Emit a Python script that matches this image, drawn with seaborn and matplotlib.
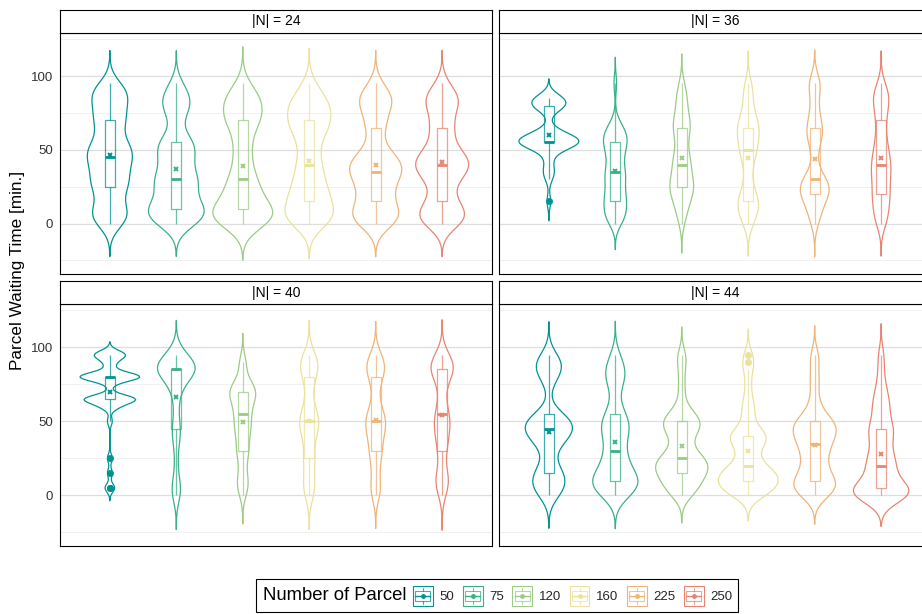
import numpy as np
import pandas as pd
import seaborn as sns
import matplotlib
matplotlib.use("Agg")
import matplotlib.pyplot as plt
from matplotlib.legend_handler import HandlerBase
from matplotlib.patches import Rectangle
from matplotlib.lines import Line2D

# Waiting-time grid (minutes) shared by every frequency list below
waiting_minutes = np.arange(0, 100, 5)

parcel_levels = ["50", "75", "120", "160", "225", "250"]
node_levels = [24, 36, 40, 44]
palette = ["#009392", "#39b185", "#9ccb86", "#e9e29c", "#eeb479", "#e88471"]

# Number of parcels observed at each waiting time (0, 5, ..., 95 min)
n24_50 = [2, 3, 2, 1, 1, 3, 2, 2, 2, 3, 3, 2, 1, 1, 3, 1, 2, 2, 3, 1]
n24_75 = [3, 4, 4, 2, 2, 2, 4, 1, 2, 2, 2, 3, 1, 0, 1, 1, 2, 2, 1, 1]
n24_120 = [4, 5, 4, 2, 2, 2, 2, 1, 1, 1, 1, 1, 1, 1, 3, 2, 2, 3, 1, 1]
n24_160 = [3, 4, 2, 3, 2, 2, 2, 1, 2, 1, 1, 1, 2, 2, 3, 2, 3, 2, 1, 1]
n24_225 = [3, 4, 2, 2, 2, 2, 2, 4, 3, 3, 1, 1, 0, 2, 1, 1, 2, 3, 1, 1]
n24_250 = [3, 4, 2, 2, 1, 1, 2, 3, 4, 3, 2, 1, 1, 2, 1, 1, 2, 3, 1, 1]

n36_50 = [0, 0, 0, 1, 0, 0, 1, 2, 1, 1, 3, 12, 6, 1, 0, 1, 6, 5, 0, 0]
n36_75 = [2, 3, 3, 3, 3, 2, 3, 3, 2, 2, 3, 3, 4, 2, 1, 0, 0, 0, 0, 1]
n36_120 = [1, 1, 2, 2, 3, 4, 3, 2, 3, 2, 2, 1, 2, 3, 2, 2, 1, 2, 1, 1]
n36_160 = [2, 2, 3, 4, 2, 1, 1, 1, 1, 2, 3, 2, 3, 4, 2, 2, 1, 1, 2, 1]
n36_225 = [1, 2, 2, 2, 5, 5, 4, 1, 0, 1, 1, 1, 3, 3, 1, 1, 2, 0, 1, 4]
n36_250 = [2, 2, 2, 2, 3, 2, 2, 3, 3, 2, 2, 2, 1, 1, 2, 1, 2, 3, 2, 1]

n40_50 = [0, 2, 0, 1, 0, 1, 0, 0, 0, 0, 1, 0, 3, 10, 0, 1, 12, 1, 2, 6]
n40_75 = [2, 2, 1, 0, 1, 0, 1, 0, 2, 2, 0, 1, 1, 0, 2, 2, 2, 13, 4, 4]
n40_120 = [1, 2, 2, 1, 1, 1, 3, 1, 2, 3, 2, 3, 2, 4, 5, 4, 0, 1, 2, 0]
n40_160 = [2, 2, 2, 1, 1, 3, 1, 1, 2, 3, 4, 3, 1, 1, 1, 1, 2, 3, 4, 2]
n40_225 = [2, 2, 1, 1, 1, 2, 2, 2, 2, 3, 4, 3, 1, 1, 1, 1, 2, 4, 3, 2]
n40_250 = [1, 2, 3, 2, 0, 1, 2, 1, 2, 3, 2, 3, 1, 1, 1, 1, 2, 6, 4, 2]

n44_50 = [2, 3, 3, 3, 1, 1, 0, 3, 3, 5, 5, 2, 0, 0, 0, 1, 1, 3, 3, 1]
n44_75 = [3, 4, 5, 3, 2, 2, 2, 1, 2, 3, 2, 2, 1, 0, 1, 1, 2, 2, 1, 1]
n44_120 = [2, 3, 3, 4, 5, 4, 2, 1, 2, 3, 4, 2, 1, 0, 1, 0, 1, 0, 1, 1]
n44_160 = [3, 5, 5, 5, 3, 1, 2, 2, 5, 1, 1, 1, 1, 1, 0, 1, 0, 1, 1, 1]
n44_225 = [3, 4, 4, 2, 2, 2, 2, 3, 3, 4, 4, 1, 1, 1, 0, 1, 1, 0, 1, 1]
n44_250 = [9, 5, 2, 2, 3, 2, 2, 1, 2, 3, 1, 1, 2, 1, 1, 1, 0, 1, 0, 1]

frequencies = {
    24: [n24_50, n24_75, n24_120, n24_160, n24_225, n24_250],
    36: [n36_50, n36_75, n36_120, n36_160, n36_225, n36_250],
    40: [n40_50, n40_75, n40_120, n40_160, n40_225, n40_250],
    44: [n44_50, n44_75, n44_120, n44_160, n44_225, n44_250],
}

rows = []
for nodes, lists in frequencies.items():
    for parcels, counts in zip(parcel_levels, lists):
        for t in np.repeat(waiting_minutes, counts):
            rows.append((nodes, parcels, float(t)))
df = pd.DataFrame(rows, columns=["nodes", "parcels", "wait"])


def nrd0(kde):
    """Silverman's rule of thumb (R's bw.nrd0) expressed as a scipy factor."""
    x = kde.dataset.ravel()
    sd = x.std(ddof=1)
    q75, q25 = np.percentile(x, [75, 25])
    h = 0.9 * min(sd, (q75 - q25) / 1.34) * len(x) ** -0.2
    return h / sd


sns.set_style("white")
plt.rcParams["font.family"] = ["Liberation Sans", "DejaVu Sans"]

W, H = 922, 614
fig = plt.figure(figsize=(W / 100, H / 100), dpi=100)


def fx(px):
    return px / W


def fy(py):
    return 1 - py / H


panel_w = 432
panel_lefts = [60, 499, 60, 499]
panel_tops = [33, 33, 304, 304]
panel_h = [241, 241, 242, 242]
strip_h = 23

for k, nodes in enumerate(node_levels):
    left, top = panel_lefts[k], panel_tops[k]
    ax = fig.add_axes([fx(left), fy(top + panel_h[k]), panel_w / W, panel_h[k] / H])
    sub = df[df["nodes"] == nodes]

    sns.violinplot(
        data=sub, x="parcels", y="wait", hue="parcels",
        order=parcel_levels, hue_order=parcel_levels, palette=palette,
        fill=False, inner=None, density_norm="area", common_norm=True,
        width=0.9, cut=3, bw_method=nrd0, bw_adjust=0.6,
        linewidth=0.9, dodge=False, legend=False, ax=ax,
    )
    sns.boxplot(
        data=sub, x="parcels", y="wait", hue="parcels",
        order=parcel_levels, hue_order=parcel_levels, palette=palette,
        fill=False, width=0.15, linewidth=0.9, showcaps=False, whis=1.5,
        dodge=False, legend=False, ax=ax,
        boxprops=dict(alpha=0.75), whiskerprops=dict(alpha=0.75),
        medianprops=dict(linewidth=2.0),
        flierprops=dict(marker="o", markersize=4.5, markeredgewidth=0.5),
        showmeans=True,
        meanprops=dict(marker="x", markersize=3.5, markeredgewidth=1.4),
    )
    # colour the mean crosses and fill the outlier dots with their group colour
    for line in ax.lines:
        xs = line.get_xdata()
        if len(xs) == 0:
            continue
        idx = int(round(float(xs[0])))
        if line.get_marker() == "x":
            line.set_markeredgecolor(palette[idx])
            line.set_zorder(4)
        elif line.get_marker() == "o":
            line.set_markerfacecolor(palette[idx])
            line.set_markeredgecolor(palette[idx])

    ax.set_xlim(-0.75, 5.75)
    ax.set_ylim(-34.2, 129.2)
    ax.set_xticks([])
    ax.set_xlabel("")
    ax.set_ylabel("")
    ax.set_yticks([0, 50, 100])
    ax.set_yticks([-25, 25, 75, 125], minor=True)
    ax.grid(which="major", axis="y", color="#dedede", linewidth=0.9)
    ax.grid(which="minor", axis="y", color="#efefef", linewidth=0.6)
    ax.set_axisbelow(True)
    ax.tick_params(which="minor", length=0)
    if left == 60:
        ax.tick_params(which="major", axis="y", length=3, width=0.7,
                       color="#333333", labelcolor="#333333", labelsize=9.5, pad=2)
    else:
        ax.tick_params(which="major", axis="y", length=0, labelleft=False)
    for sp in ax.spines.values():
        sp.set_visible(True)
        sp.set_color("black")
        sp.set_linewidth(0.8)

    # facet strip
    sax = fig.add_axes([fx(left), fy(top), panel_w / W, strip_h / H])
    sax.set_xticks([])
    sax.set_yticks([])
    sax.set_facecolor("white")
    for sp in sax.spines.values():
        sp.set_color("black")
        sp.set_linewidth(0.8)
    sax.text(0.5, 0.5, f"|N| = {nodes}", ha="center", va="center",
             fontsize=10, color="black", transform=sax.transAxes)

fig.text(fx(18), fy(270), "Parcel Waiting Time [min.]", rotation=90,
         ha="center", va="center", fontsize=12.3, color="black")


class ViolinBoxKey(HandlerBase):
    def create_artists(self, legend, orig_handle, xdescent, ydescent,
                       width, height, fontsize, trans):
        c = orig_handle.get_color()
        x0, y0, w, h = -xdescent, -ydescent, width, height
        arts = [
            Rectangle((x0, y0), w, h, fill=False, edgecolor=c, lw=0.8, transform=trans),
            Rectangle((x0 + 0.125 * w, y0 + 0.25 * h), 0.75 * w, 0.5 * h, fill=False,
                      edgecolor=c, lw=0.8, alpha=0.75, transform=trans),
            Line2D([x0 + 0.5 * w] * 2, [y0 + 0.1 * h, y0 + 0.25 * h], color=c, lw=0.8,
                   alpha=0.75, transform=trans),
            Line2D([x0 + 0.5 * w] * 2, [y0 + 0.75 * h, y0 + 0.9 * h], color=c, lw=0.8,
                   alpha=0.75, transform=trans),
            Line2D([x0 + 0.125 * w, x0 + 0.875 * w], [y0 + 0.5 * h] * 2, color=c,
                   lw=1.0, transform=trans),
            Line2D([x0 + 0.5 * w], [y0 + 0.5 * h], marker="o", markersize=2.5,
                   color=c, transform=trans),
        ]
        return arts


handles = [Line2D([], [], color=c) for c in palette]
fig.legend(handles, parcel_levels, handler_map={Line2D: ViolinBoxKey()},
           ncol=6, loc="center left", bbox_to_anchor=(fx(413), fy(596)),
           frameon=False, fontsize=9.5, handlelength=1.5, handleheight=1.85,
           handletextpad=0.5, columnspacing=0.65, borderpad=0, borderaxespad=0)
fig.text(fx(263), fy(596), "Number of Parcel", ha="left", va="center",
         fontsize=13.3, color="black")
fig.patches.append(Rectangle((fx(256), fy(612)), (738 - 256) / W, (612 - 579) / H,
                             transform=fig.transFigure, fill=False,
                             edgecolor="black", linewidth=0.8))

fig.savefig("out.png", dpi=100)
